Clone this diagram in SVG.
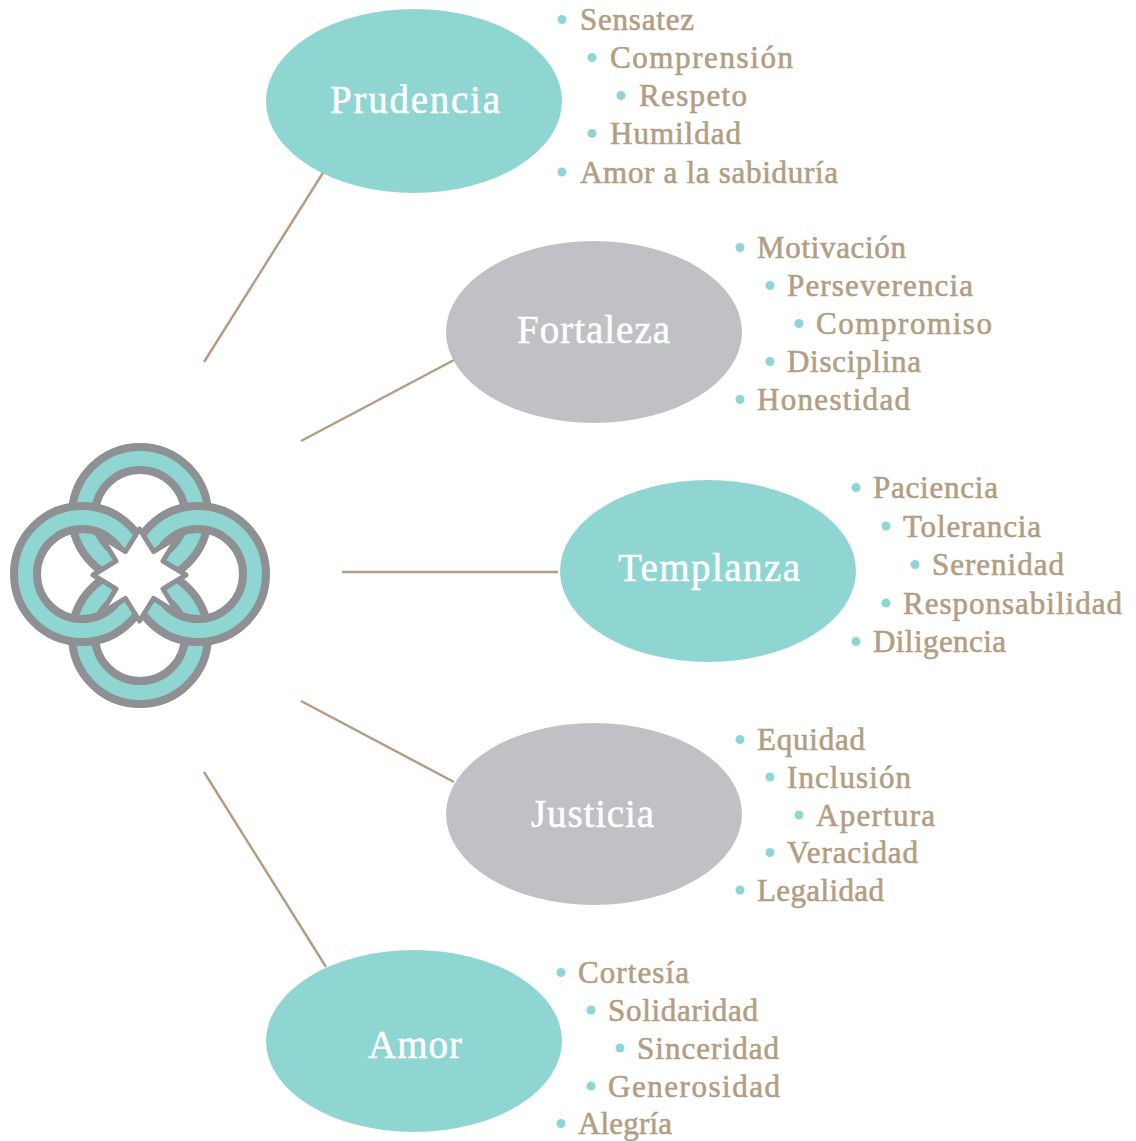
<svg xmlns="http://www.w3.org/2000/svg" width="1136" height="1141" viewBox="0 0 1136 1141">
<style>
.teal{fill:#8fd5d2}
.gray{fill:#c0c1c4}
.title{font-family:"Liberation Serif","Times New Roman",serif;font-size:39px;fill:#ffffff;stroke:#ffffff;stroke-width:0.5}
.item{font-family:"Liberation Serif","Times New Roman",serif;font-size:31px;fill:#b29e83;stroke:#b29e83;stroke-width:0.6}
.bul{fill:#8fd5d2}
.conn line{stroke:#b39d83;stroke-width:2.5}
.ringo{fill:none;stroke:#8f9093;stroke-width:31}
.ringi{fill:none;stroke:#8fd5d2;stroke-width:15}
</style>
<rect width="1136" height="1141" fill="#ffffff"/>
<g id="logo">
<g id="ring-top"><circle cx="140" cy="515" r="56.5" class="ringo"/><circle cx="140" cy="515" r="56.5" class="ringi"/></g>
<g id="ring-bottom"><circle cx="140" cy="636" r="56.5" class="ringo"/><circle cx="140" cy="636" r="56.5" class="ringi"/></g>
<g id="ring-left"><circle cx="82" cy="574" r="56.5" class="ringo"/><circle cx="82" cy="574" r="56.5" class="ringi"/></g>
<g id="ring-right"><circle cx="198" cy="574" r="56.5" class="ringo"/><circle cx="198" cy="574" r="56.5" class="ringi"/></g>
<path d="M139.5,529 L153.5,551.5 L178,536.5 L163,561 L186,575 L163,589 L178,613.5 L153.5,598.5 L139.5,621 L125.5,598.5 L101,613.5 L116,589 L93,575 L116,561 L101,536.5 L125.5,551.5 Z" fill="#ffffff" stroke="#8f9093" stroke-width="5" stroke-linejoin="round"/>
</g>
<g id="connectors" class="conn">
<line x1="204" y1="362" x2="326" y2="168"/>
<line x1="301" y1="441" x2="454" y2="360"/>
<line x1="342" y1="572" x2="558" y2="572"/>
<line x1="301" y1="701" x2="454" y2="782"/>
<line x1="204" y1="772" x2="326" y2="967"/>
</g>
<g id="prudencia">
<ellipse cx="414" cy="101" rx="148" ry="92" class="teal"/>
<text x="330" y="113" class="title" textLength="170" lengthAdjust="spacing">Prudencia</text>
<circle cx="562" cy="19.5" r="4.5" class="bul"/><text x="580" y="30" class="item" textLength="114" lengthAdjust="spacing">Sensatez</text>
<circle cx="592" cy="57.5" r="4.5" class="bul"/><text x="610" y="68" class="item" textLength="183" lengthAdjust="spacing">Comprensión</text>
<circle cx="621" cy="95.5" r="4.5" class="bul"/><text x="639" y="106" class="item" textLength="108" lengthAdjust="spacing">Respeto</text>
<circle cx="592" cy="133.5" r="4.5" class="bul"/><text x="610" y="144" class="item" textLength="131" lengthAdjust="spacing">Humildad</text>
<circle cx="562" cy="172" r="4.5" class="bul"/><text x="580" y="182.5" class="item" textLength="258" lengthAdjust="spacing">Amor a la sabiduría</text>
</g>
<g id="fortaleza">
<ellipse cx="594" cy="332" rx="148" ry="91" class="gray"/>
<text x="517" y="343" class="title" textLength="153" lengthAdjust="spacing">Fortaleza</text>
<circle cx="740" cy="247.5" r="4.5" class="bul"/><text x="757" y="258" class="item" textLength="149" lengthAdjust="spacing">Motivación</text>
<circle cx="770" cy="285.5" r="4.5" class="bul"/><text x="787" y="296" class="item" textLength="186" lengthAdjust="spacing">Perseverencia</text>
<circle cx="799" cy="323.5" r="4.5" class="bul"/><text x="816" y="334" class="item" textLength="176" lengthAdjust="spacing">Compromiso</text>
<circle cx="770" cy="361.5" r="4.5" class="bul"/><text x="787" y="372" class="item" textLength="134" lengthAdjust="spacing">Disciplina</text>
<circle cx="740" cy="399.5" r="4.5" class="bul"/><text x="757" y="410" class="item" textLength="153" lengthAdjust="spacing">Honestidad</text>
</g>
<g id="templanza">
<ellipse cx="708" cy="571" rx="148" ry="91" class="teal"/>
<text x="618" y="581" class="title" textLength="182" lengthAdjust="spacing">Templanza</text>
<circle cx="856" cy="487.5" r="4.5" class="bul"/><text x="873" y="498" class="item" textLength="125" lengthAdjust="spacing">Paciencia</text>
<circle cx="886" cy="526" r="4.5" class="bul"/><text x="903" y="536.5" class="item" textLength="138" lengthAdjust="spacing">Tolerancia</text>
<circle cx="915" cy="564.5" r="4.5" class="bul"/><text x="932" y="575" class="item" textLength="132" lengthAdjust="spacing">Serenidad</text>
<circle cx="886" cy="603" r="4.5" class="bul"/><text x="903" y="613.5" class="item" textLength="219" lengthAdjust="spacing">Responsabilidad</text>
<circle cx="856" cy="641.5" r="4.5" class="bul"/><text x="873" y="652" class="item" textLength="133" lengthAdjust="spacing">Diligencia</text>
</g>
<g id="justicia">
<ellipse cx="594" cy="814" rx="148" ry="91" class="gray"/>
<text x="531" y="827" class="title" textLength="123" lengthAdjust="spacing">Justicia</text>
<circle cx="740" cy="739.5" r="4.5" class="bul"/><text x="757" y="750" class="item" textLength="108" lengthAdjust="spacing">Equidad</text>
<circle cx="770" cy="777" r="4.5" class="bul"/><text x="787" y="787.5" class="item" textLength="124" lengthAdjust="spacing">Inclusión</text>
<circle cx="799" cy="815" r="4.5" class="bul"/><text x="816" y="825.5" class="item" textLength="119" lengthAdjust="spacing">Apertura</text>
<circle cx="770" cy="852.5" r="4.5" class="bul"/><text x="787" y="863" class="item" textLength="131" lengthAdjust="spacing">Veracidad</text>
<circle cx="740" cy="890" r="4.5" class="bul"/><text x="757" y="900.5" class="item" textLength="127" lengthAdjust="spacing">Legalidad</text>
</g>
<g id="amor">
<ellipse cx="414" cy="1041" rx="148" ry="91" class="teal"/>
<text x="368" y="1058" class="title" textLength="94" lengthAdjust="spacing">Amor</text>
<circle cx="561" cy="972.5" r="4.5" class="bul"/><text x="578" y="983" class="item" textLength="111" lengthAdjust="spacing">Cortesía</text>
<circle cx="591" cy="1010" r="4.5" class="bul"/><text x="608" y="1020.5" class="item" textLength="150" lengthAdjust="spacing">Solidaridad</text>
<circle cx="620" cy="1048" r="4.5" class="bul"/><text x="637" y="1058.5" class="item" textLength="142" lengthAdjust="spacing">Sinceridad</text>
<circle cx="591" cy="1086" r="4.5" class="bul"/><text x="608" y="1096.5" class="item" textLength="172" lengthAdjust="spacing">Generosidad</text>
<circle cx="561" cy="1123.5" r="4.5" class="bul"/><text x="578" y="1134" class="item" textLength="94" lengthAdjust="spacing">Alegría</text>
</g>
</svg>
